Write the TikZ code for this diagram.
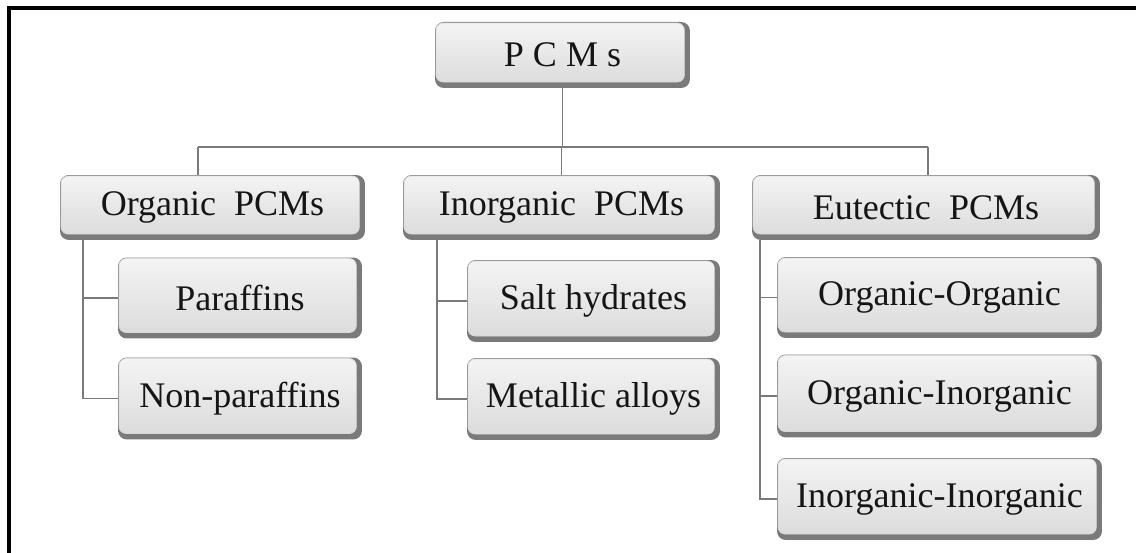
\documentclass[tikz,border=0pt]{standalone}
\usepackage{fontspec}
\setmainfont{Liberation Serif}
\usetikzlibrary{calc}
\definecolor{facetop}{HTML}{F4F4F4}
\definecolor{facebot}{HTML}{DADADA}
\definecolor{edge}{HTML}{7A7A7A}
\definecolor{conn}{HTML}{7A7A7A}
\definecolor{txt}{HTML}{151515}
\tikzset{
  pbox/.style={rectangle, rounded corners=5pt, fill=edge, inner sep=0pt,
    font=\fontsize{20.5}{24}\selectfont, text=txt,
    path picture={
      \fill[rounded corners=4pt, top color=facetop, bottom color=facebot]
        ($(path picture bounding box.north west)+(0.6pt,-0.6pt)$) rectangle
        ($(path picture bounding box.south east)+(-3.2pt,3.4pt)$);
      \draw[white!70!gray, line width=0.4pt, rounded corners=4pt]
        ($(path picture bounding box.north west)+(0.6pt,-0.6pt)$) rectangle
        ($(path picture bounding box.south east)+(-3.2pt,3.4pt)$);
    }},
  conline/.style={draw=conn, line width=0.9pt},
  frameline/.style={draw=black, line width=2.4pt}
}
\begin{document}
\begin{tikzpicture}[x=0.02cm, y=-0.02cm]
\useasboundingbox (0,0) rectangle (1136,553);
% frame
\coordinate (ftl) at (9,8);
\coordinate (ftr) at (1136,8);
\coordinate (fbl) at (9,553);
\draw[frameline] (fbl) -- (ftl) -- (ftr);

% boxes
\node[pbox, minimum width=5.1cm, minimum height=1.32cm] (pcm) at (562.5,55) {P C M s};

\node[pbox, minimum width=6.1cm, minimum height=1.3cm] (org) at (212.5,207.5) {Organic\ \ PCMs};
\node[pbox, minimum width=6.34cm, minimum height=1.3cm] (inorg) at (561.5,207.5) {Inorganic\ \ PCMs};
\node[pbox, minimum width=6.96cm, minimum height=1.3cm] (eut) at (926,207.5) {Eutectic\ \ PCMs};

\node[pbox, minimum width=4.88cm, minimum height=1.62cm] (par) at (240,298) {Paraffins};
\node[pbox, minimum width=4.88cm, minimum height=1.64cm] (npar) at (240,398.5) {Non-paraffins};

\node[pbox, minimum width=5.06cm, minimum height=1.64cm] (salt) at (593.5,301) {Salt hydrates};
\node[pbox, minimum width=5.06cm, minimum height=1.64cm] (metal) at (593.5,399) {Metallic alloys};

\node[pbox, minimum width=6.5cm, minimum height=1.62cm] (oo) at (939.5,297.5) {Organic-Organic};
\node[pbox, minimum width=6.5cm, minimum height=1.66cm] (oi) at (939.5,396) {Organic-Inorganic};
\node[pbox, minimum width=6.5cm, minimum height=1.64cm] (ii) at (939.5,499) {Inorganic-Inorganic};

% connectors top level
\coordinate (hL) at (198,147);
\coordinate (hR) at (928,147);
\draw[conline] (pcm.south) -- (pcm.south |- hL);
\draw[conline] (hL) -- (hR);
\draw[conline] (hL) -- (hL |- org.north);
\draw[conline] (inorg.north) -- (inorg.north |- hL);
\draw[conline] (hR) -- (hR |- eut.north);

% sub branches
\coordinate (vo) at (83,240);
\coordinate (vi) at (437,240);
\coordinate (ve) at (760,240);
\draw[conline] (vo) |- (par.west);
\draw[conline] (vo) |- (npar.west);
\draw[conline] (vi) |- (salt.west);
\draw[conline] (vi) |- (metal.west);
\draw[conline] (ve) |- (oo.west);
\draw[conline] (ve) |- (oi.west);
\draw[conline] (ve) |- (ii.west);
\end{tikzpicture}
\end{document}
